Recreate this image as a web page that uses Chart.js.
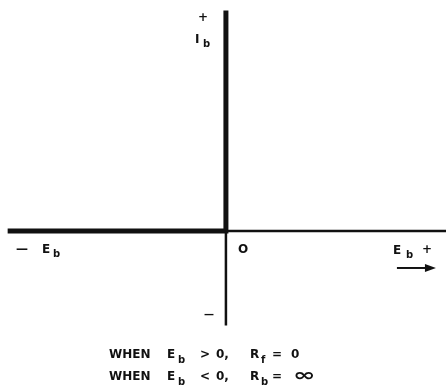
<!DOCTYPE html>
<html>
<head>
<meta charset="utf-8">
<script src="https://cdn.jsdelivr.net/npm/chart.js@4/dist/chart.umd.min.js"></script>
<style>
  html, body { margin: 0; padding: 0; background: #fff; }
  #wrap { width: 446px; height: 392px; }
</style>
</head>
<body>
<div id="wrap"><canvas id="diode" width="446" height="392"></canvas></div>
<script>
// ideal diode characteristic: Ib vs Eb
const curveEb = [-9.7, 0, 0];
const curveIb = [0, 0, 9.8];
// thin axes (positive Eb, negative Ib)
const axisXEb = [0, 9.8];
const axisXIb = [0, 0];
const axisYEb = [0, 0];
const axisYIb = [0, -4.2];

const ink = '#111';
const FONT = 'bold 12px "DejaVu Sans", sans-serif';
const SUB = 'bold 10px "DejaVu Sans", sans-serif';

const toPts = (xs, ys) => xs.map((x, i) => ({ x, y: ys[i] }));

// draw the lettering around the axes
const labels = {
  id: 'labels',
  afterDraw(chart) {
    const c = chart.ctx;
    const ox = chart.scales.x.getPixelForValue(0);
    const oy = chart.scales.y.getPixelForValue(0);
    c.save();
    c.fillStyle = ink;
    c.textBaseline = 'alphabetic';
    const t = (s, x, y, f) => { c.font = f || FONT; c.fillText(s, x, y); };

    // top: + Ib
    t('+', ox - 28, oy - 210);
    t('I', ox - 31, oy - 188);
    t('b', ox - 23, oy - 184, SUB);

    // left: - Eb
    t('\u2014', ox - 210, oy + 22);
    t('E', ox - 184, oy + 22);
    t('b', ox - 173, oy + 26, SUB);

    // origin
    t('O', ox + 12, oy + 22);

    // right: Eb +
    t('E', ox + 167, oy + 23);
    t('b', ox + 180, oy + 27, SUB);
    t('+', ox + 196, oy + 22);

    // bottom: -
    t('\u2014', ox - 22, oy + 87, 'bold 10px "DejaVu Sans", sans-serif');

    // arrow
    c.strokeStyle = ink;
    c.lineWidth = 2;
    c.beginPath();
    c.moveTo(ox + 171, oy + 37);
    c.lineTo(ox + 202, oy + 37);
    c.stroke();
    c.beginPath();
    c.moveTo(ox + 210, oy + 37);
    c.lineTo(ox + 199, oy + 33);
    c.lineTo(ox + 199, oy + 41);
    c.closePath();
    c.fill();

    // conditions
    const rows = [
      { y: 358, rel: '>', sub: 'f', rhs: '0' },
      { y: 380, rel: '<', sub: 'b', rhs: '\u221E' }
    ];
    rows.forEach(r => {
      t('WHEN', 109, r.y);
      t('E', 167, r.y);
      t('b', 178, r.y + 5, SUB);
      t(r.rel, 200, r.y);
      t('0,', 216, r.y);
      t('R', 250, r.y);
      t(r.sub, 261, r.y + 5, SUB);
      t('=', 272, r.y);
      if (r.rhs === '0') {
        t('0', 291, r.y);
      } else {
        c.save();
        c.translate(293, r.y + 1);
        c.scale(1.5, 1);
        t(r.rhs, 0, 0, 'bold 18px "DejaVu Sans", sans-serif');
        c.restore();
      }
    });
    c.restore();
  }
};

new Chart(document.getElementById('diode').getContext('2d'), {
  type: 'scatter',
  data: {
    datasets: [
      { data: toPts(axisXEb, axisXIb), borderColor: ink, borderWidth: 2.5, showLine: true, pointRadius: 0 },
      { data: toPts(axisYEb, axisYIb), borderColor: ink, borderWidth: 2.5, showLine: true, pointRadius: 0 },
      { data: toPts(curveEb, curveIb), borderColor: ink, borderWidth: 5, showLine: true, pointRadius: 0,
        borderJoinStyle: 'miter' }
    ]
  },
  plugins: [labels],
  options: {
    responsive: false,
    animation: false,
    layout: { padding: 0 },
    plugins: { legend: { display: false }, tooltip: { enabled: false } },
    scales: {
      x: { type: 'linear', display: false, min: -10.04, max: 9.78 },
      y: { type: 'linear', display: false, min: -7.16, max: 10.27 }
    }
  }
});
</script>
</body>
</html>
